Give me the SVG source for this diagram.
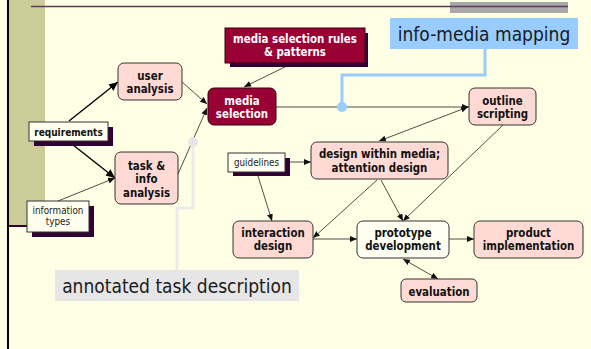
<svg xmlns="http://www.w3.org/2000/svg" width="591" height="349" viewBox="0 0 591 349">
<style>
text{font-family:"DejaVu Sans Condensed","DejaVu Sans",sans-serif;text-anchor:middle}
.b{font-weight:bold;font-size:11.4px;fill:#111}
.w{font-weight:bold;font-size:11.4px;fill:#fff}
.s{font-size:9.8px;fill:#222}
.sb{font-weight:bold;font-size:10px;fill:#111}
.big{font-size:19px;fill:#1a1a1a}
.pink{fill:#FFDAD4;stroke:#333;stroke-width:1}
.red{fill:#990033;stroke:#330011;stroke-width:1}
.note{fill:#FFFFF0;stroke:#333;stroke-width:1}
.shadow{fill:#330033}
.c{fill:none;stroke:#222;stroke-width:0.8}
.ct{fill:none;stroke:#000;stroke-width:1.4}
</style>
<defs>
<marker id="a" markerUnits="userSpaceOnUse" markerWidth="8" markerHeight="6" refX="7" refY="3" orient="auto">
<path d="M0,0 L7,3 L0,6 z" fill="#111"/>
</marker>
<marker id="as" markerUnits="userSpaceOnUse" markerWidth="8" markerHeight="6" refX="7" refY="3" orient="auto-start-reverse">
<path d="M0,0 L7,3 L0,6 z" fill="#111"/>
</marker>
<marker id="at" markerUnits="userSpaceOnUse" markerWidth="10" markerHeight="8" refX="9" refY="4" orient="auto">
<path d="M0,0 L9,4 L0,8 z" fill="#000"/>
</marker>
</defs>
<rect width="591" height="349" fill="#FFFFE5"/>
<rect x="9" y="0" width="36" height="226" fill="#CCCC99"/>
<line x1="8" y1="226" x2="45" y2="226" stroke="#330033" stroke-width="2"/>
<line x1="8" y1="0" x2="8" y2="349" stroke="#000" stroke-width="2"/>
<rect x="450" y="2" width="118" height="11" fill="#A8A8A8"/>
<line x1="31" y1="6.5" x2="568" y2="6.5" stroke="#5E3A5E" stroke-width="1.3"/>

<g id="connectors">
<line class="ct" x1="69" y1="121" x2="118" y2="82" marker-end="url(#at)"/>
<line class="ct" x1="68" y1="141" x2="115" y2="178" marker-end="url(#at)"/>
<line class="c" x1="58" y1="201" x2="115" y2="178" marker-end="url(#a)"/>
<line class="c" x1="182" y1="82" x2="207" y2="104" marker-end="url(#a)"/>
<line class="c" x1="178" y1="174" x2="207" y2="108" marker-end="url(#a)"/>
<line class="c" x1="293" y1="63" x2="244" y2="87" marker-end="url(#a)"/>
<line class="c" x1="276" y1="107" x2="469" y2="107" marker-end="url(#a)"/>
<line class="c" x1="379" y1="141" x2="468" y2="107" marker-start="url(#as)" marker-end="url(#as)"/>
<line class="c" x1="503" y1="125" x2="403" y2="221" marker-end="url(#a)"/>
<line class="c" x1="290" y1="162" x2="311" y2="162" marker-end="url(#a)"/>
<line class="c" x1="258" y1="176" x2="272" y2="221" marker-end="url(#a)"/>
<line class="c" x1="377" y1="180" x2="313" y2="238" marker-end="url(#a)"/>
<line class="c" x1="381" y1="180" x2="403" y2="221" marker-end="url(#a)"/>
<line class="c" x1="313" y1="239" x2="357" y2="239" marker-end="url(#a)"/>
<line class="c" x1="449" y1="239" x2="474" y2="239" marker-end="url(#a)"/>
<line class="c" x1="403" y1="259" x2="438" y2="279" marker-start="url(#as)" marker-end="url(#as)"/>
<path d="M485,49 V75 H342 V107" fill="none" stroke="#99CCFF" stroke-width="3"/>
<circle cx="342" cy="107" r="5" fill="#99CCFF"/>
<path d="M193,142 V208 H177 V270" fill="none" stroke="#EBEBEB" stroke-width="3"/>
<circle cx="193" cy="142" r="5" fill="#E6E6E6"/>
</g>

<g id="user-analysis">
<rect class="pink" x="118" y="63" width="64" height="37" rx="6"/>
<text class="b" x="150" y="79.5">user</text>
<text class="b" x="150" y="92.5">analysis</text>
</g>
<g id="media-selection-rules">
<rect class="shadow" x="230" y="33" width="138" height="34"/>
<rect class="red" x="225" y="28" width="140" height="35"/>
<text class="w" x="295" y="42.5">media selection rules</text>
<text class="w" x="295" y="56">&amp; patterns</text>
</g>
<g id="info-media-mapping">
<rect x="390" y="18" width="188" height="31" fill="#99CCFF"/>
<text class="big" x="484" y="41">info-media mapping</text>
</g>
<g id="media-selection">
<rect class="red" x="208" y="88" width="68" height="37" rx="6"/>
<text class="w" x="242" y="105">media</text>
<text class="w" x="242" y="118.3">selection</text>
</g>
<g id="outline-scripting">
<rect class="pink" x="469" y="88" width="67" height="37" rx="6"/>
<text class="b" x="502.5" y="105">outline</text>
<text class="b" x="502.5" y="118.3">scripting</text>
</g>
<g id="requirements">
<rect class="shadow" x="34" y="127" width="79" height="19"/>
<rect class="note" x="29" y="122" width="79" height="19"/>
<text class="sb" x="68.5" y="135.5">requirements</text>
</g>
<g id="task-info-analysis">
<rect class="pink" x="115" y="152" width="63" height="52" rx="6"/>
<text class="b" x="146.5" y="169.5">task &amp;</text>
<text class="b" x="146.5" y="183">info</text>
<text class="b" x="146.5" y="196.5">analysis</text>
</g>
<g id="information-types">
<rect class="shadow" x="32" y="206" width="62" height="31"/>
<rect class="note" x="27" y="201" width="62" height="31"/>
<text class="s" x="58" y="214.3">information</text>
<text class="s" x="58" y="225">types</text>
</g>
<g id="guidelines">
<rect class="shadow" x="233" y="158" width="57" height="18"/>
<rect class="note" x="228" y="153" width="57" height="19"/>
<text class="s" x="256.5" y="165.8">guidelines</text>
</g>
<g id="design-within-media">
<rect class="pink" x="311" y="142" width="137" height="37" rx="6"/>
<text class="b" x="379.5" y="158.3">design within media;</text>
<text class="b" x="379.5" y="172">attention design</text>
</g>
<g id="interaction-design">
<rect class="pink" x="233" y="221" width="80" height="37" rx="6"/>
<text class="b" x="273" y="237">interaction</text>
<text class="b" x="273" y="250">design</text>
</g>
<g id="prototype-development">
<rect x="357" y="221" width="92" height="37" rx="6" fill="#FFFFF2" stroke="#333" stroke-width="1"/>
<text class="b" x="403" y="237">prototype</text>
<text class="b" x="403" y="250">development</text>
</g>
<g id="product-implementation">
<rect class="pink" x="474" y="221" width="109" height="37" rx="6"/>
<text class="b" x="528.5" y="237">product</text>
<text class="b" x="528.5" y="250">implementation</text>
</g>
<g id="evaluation">
<rect class="pink" x="401" y="279" width="76" height="23" rx="5"/>
<text class="b" x="439" y="295.5">evaluation</text>
</g>
<g id="annotated-task-description">
<rect x="55" y="270" width="244" height="31" fill="#E6E6E6"/>
<text class="big" x="177" y="292.7">annotated task description</text>
</g>
</svg>
